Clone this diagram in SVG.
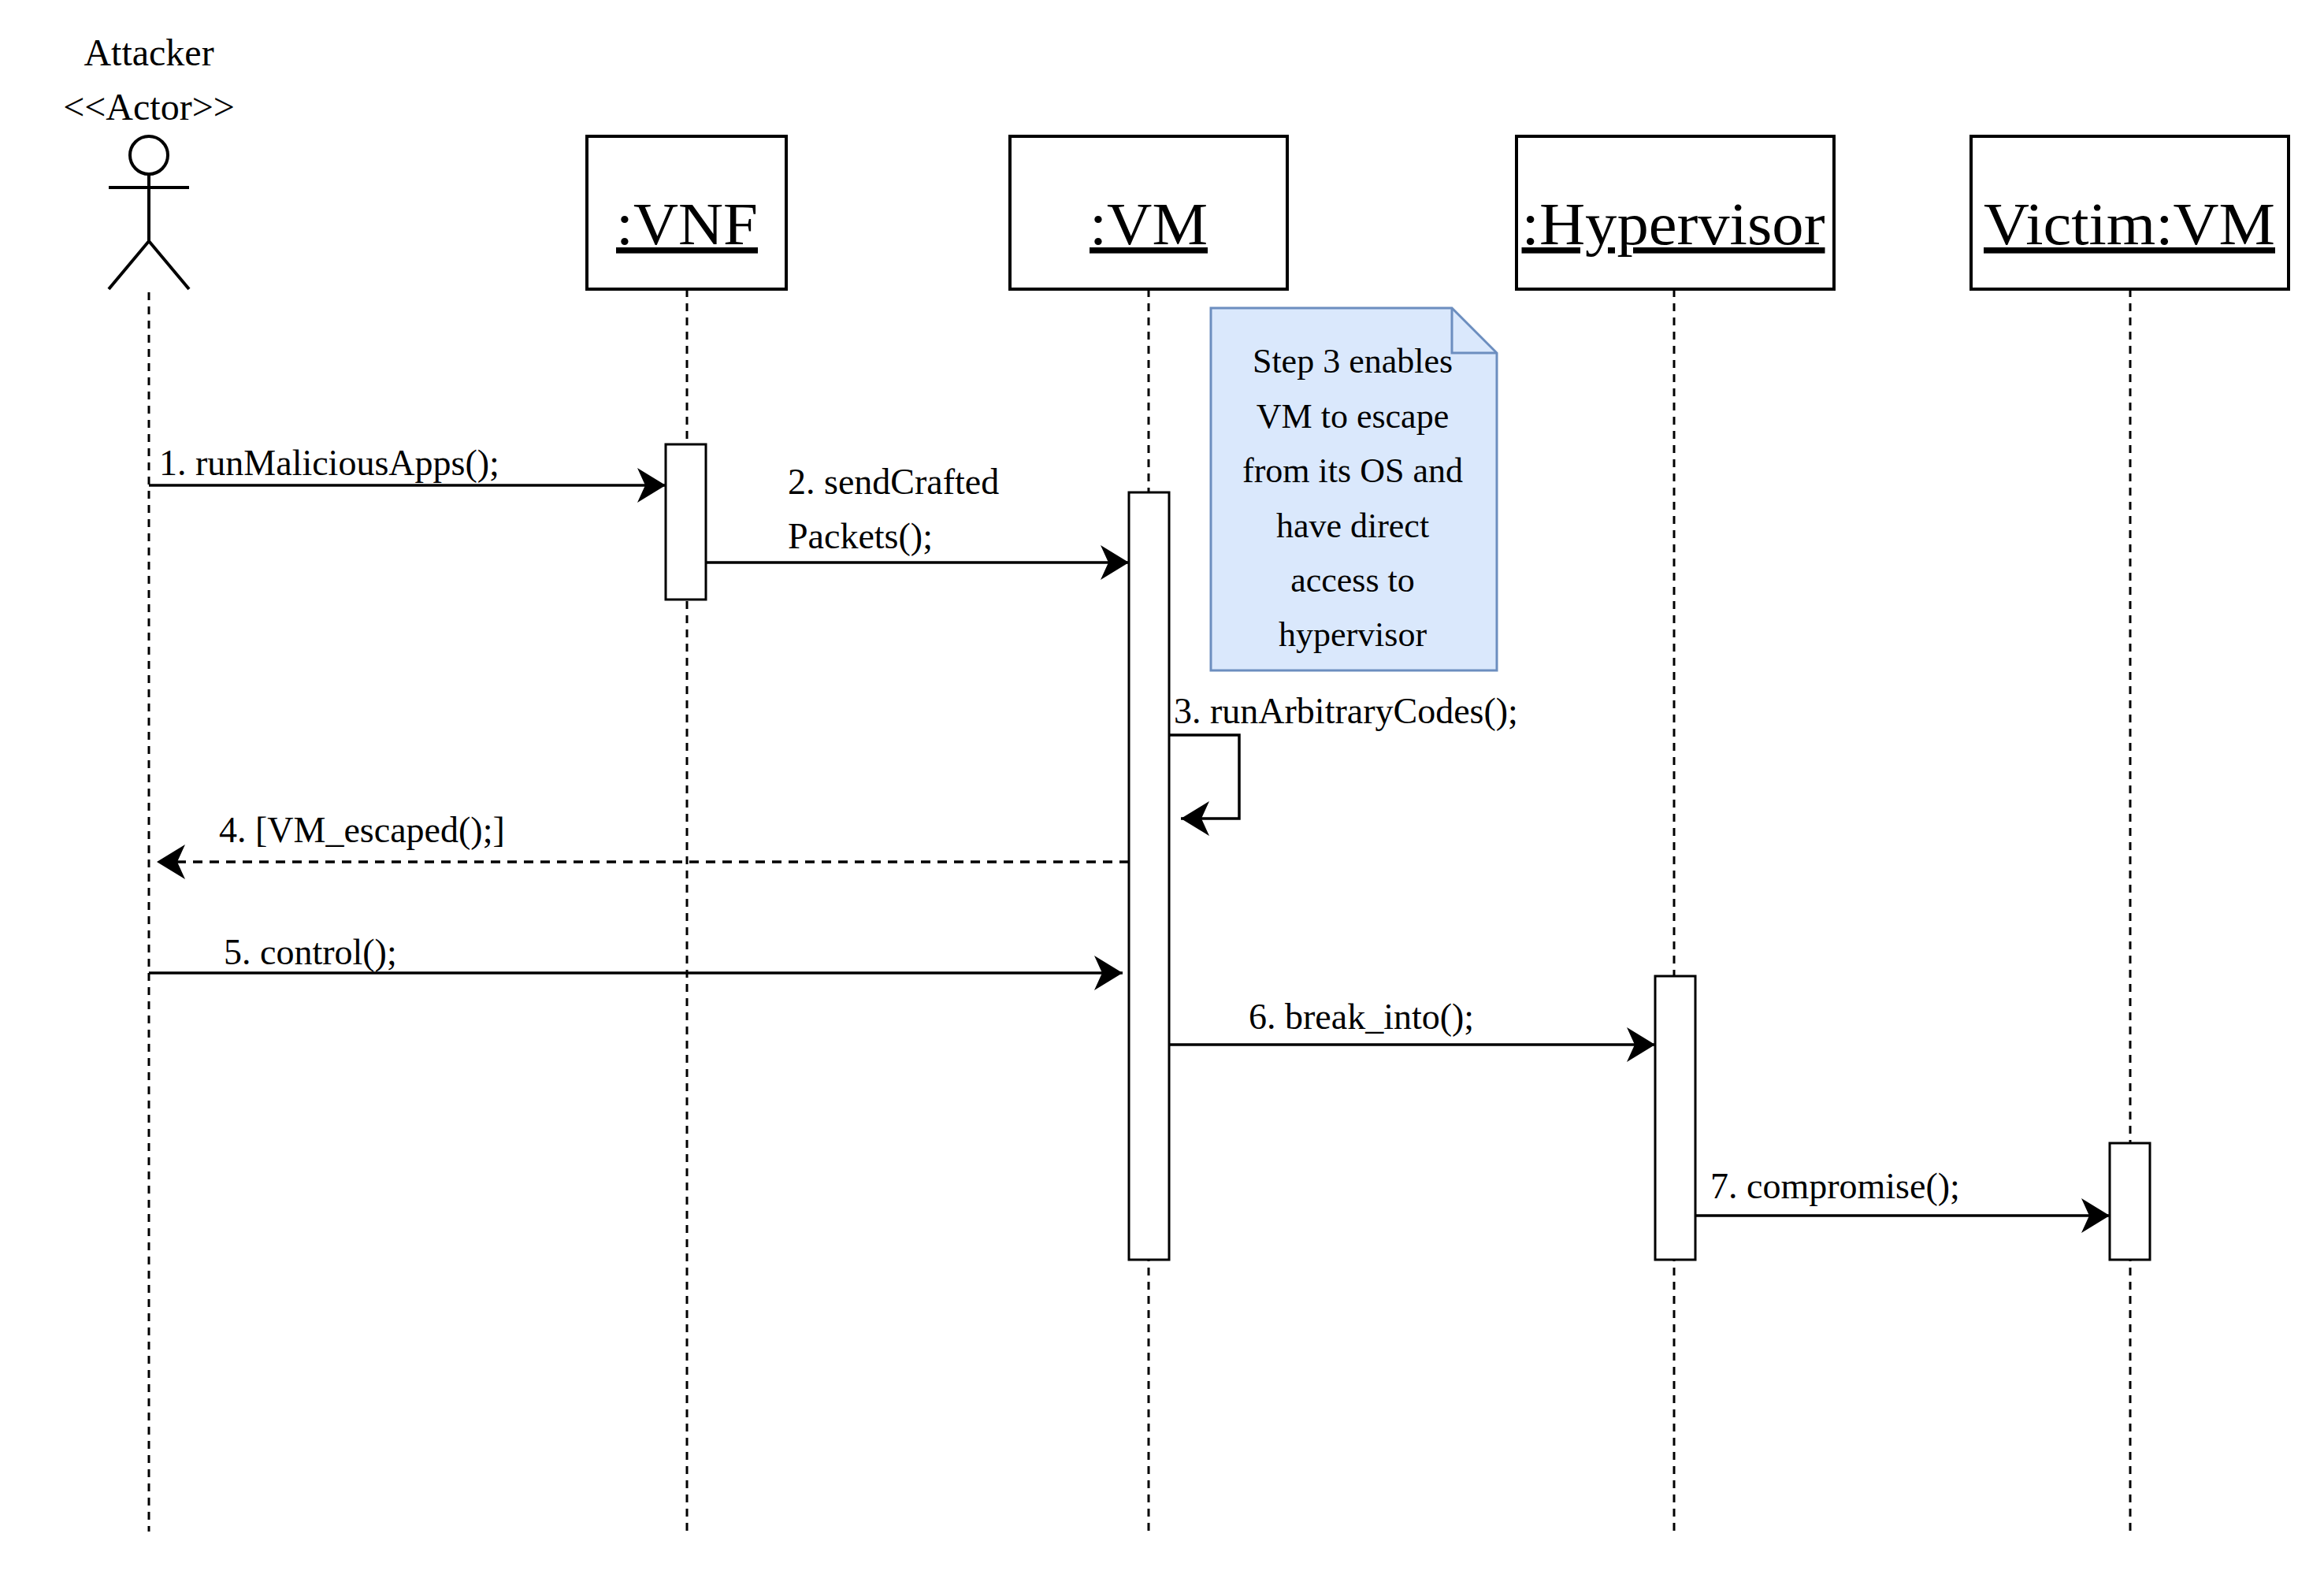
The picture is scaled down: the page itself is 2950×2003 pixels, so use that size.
<svg xmlns="http://www.w3.org/2000/svg" width="2950" height="2003" viewBox="0 0 2950 2003">
<style>
text{font-family:"Liberation Serif","Times New Roman",serif;fill:#000}
.t{font-size:46px}
.h{font-size:76px;text-decoration:underline}
.n{font-size:44px;text-anchor:middle}
.life{stroke:#000;stroke-width:3;stroke-dasharray:10 8;fill:none}
.box{fill:#fff;stroke:#000;stroke-width:4}
.act{fill:#fff;stroke:#000;stroke-width:3}
.m{stroke:#000;stroke-width:3.5;fill:none;marker-end:url(#ar)}
</style>
<defs>
<marker id="ar" markerUnits="userSpaceOnUse" markerWidth="60" markerHeight="60" refX="40" refY="30" orient="auto">
<path d="M4,8 L40,30 L4,52 L14,30 Z" fill="#000"/>
</marker>
</defs>
<rect width="2950" height="2003" fill="#fff"/>
<g id="lifelines">
<line class="life" x1="189" y1="371" x2="189" y2="1944"/>
<line class="life" x1="872" y1="367" x2="872" y2="1944"/>
<line class="life" x1="1458" y1="367" x2="1458" y2="1944"/>
<line class="life" x1="2125" y1="367" x2="2125" y2="1944"/>
<line class="life" x1="2704" y1="367" x2="2704" y2="1944"/>
</g>
<g id="attacker">
<text x="189" y="83" font-size="48" text-anchor="middle">Attacker</text>
<text x="189" y="152" font-size="48" text-anchor="middle">&lt;&lt;Actor&gt;&gt;</text>
<circle cx="189" cy="197" r="24" fill="#fff" stroke="#000" stroke-width="4"/>
<path d="M189,221 V306 M138,238 H240 M138,367 L189,306 L240,367" stroke="#000" stroke-width="4" fill="none"/>
</g>
<g id="vnf"><rect class="box" x="745" y="173" width="253" height="194"/><text class="h" x="872" y="310" text-anchor="middle" textLength="180" lengthAdjust="spacingAndGlyphs">:VNF</text></g>
<g id="vm"><rect class="box" x="1282" y="173" width="352" height="194"/><text class="h" x="1458" y="310" text-anchor="middle" textLength="150" lengthAdjust="spacingAndGlyphs">:VM</text></g>
<g id="hypervisor"><rect class="box" x="1925" y="173" width="403" height="194"/><text class="h" x="2124" y="310" text-anchor="middle" textLength="385" lengthAdjust="spacingAndGlyphs">:Hypervisor</text></g>
<g id="victim"><rect class="box" x="2502" y="173" width="403" height="194"/><text class="h" x="2703" y="310" text-anchor="middle" textLength="370" lengthAdjust="spacingAndGlyphs">Victim:VM</text></g>
<g id="activations">
<rect class="act" x="845" y="564" width="51" height="197"/>
<rect class="act" x="1433" y="625" width="51" height="974"/>
<rect class="act" x="2101" y="1239" width="51" height="360"/>
<rect class="act" x="2678" y="1451" width="51" height="148"/>
</g>
<g id="note">
<path d="M1537,391 H1843 L1900,448 V851 H1537 Z" fill="#dae8fc" stroke="#6c8ebf" stroke-width="3"/>
<path d="M1843,391 V448 H1900" fill="none" stroke="#6c8ebf" stroke-width="3"/>
<text class="n" x="1717" y="473">Step 3 enables</text>
<text class="n" x="1717" y="543">VM to escape</text>
<text class="n" x="1717" y="612">from its OS and</text>
<text class="n" x="1717" y="682">have direct</text>
<text class="n" x="1717" y="751">access to</text>
<text class="n" x="1717" y="820">hypervisor</text>
</g>
<g id="connectors">
<line class="m" x1="189" y1="616" x2="845" y2="616"/>
<line class="m" x1="896" y1="714" x2="1433" y2="714"/>
<path class="m" d="M1484,933 H1573 V1039 H1499"/>
<line class="m" x1="1433" y1="1094" x2="199" y2="1094" stroke-dasharray="12 9"/>
<line class="m" x1="189" y1="1235" x2="1425" y2="1235"/>
<line class="m" x1="1484" y1="1326" x2="2101" y2="1326"/>
<line class="m" x1="2152" y1="1543" x2="2678" y2="1543"/>
</g>
<g id="labels">
<text class="t" x="202" y="603">1. runMaliciousApps();</text>
<text class="t" x="1000" y="627">2. sendCrafted</text>
<text class="t" x="1000" y="696">Packets();</text>
<text class="t" x="1490" y="918">3. runArbitraryCodes();</text>
<text class="t" x="278" y="1069">4. [VM_escaped();]</text>
<text class="t" x="284" y="1224">5. control();</text>
<text class="t" x="1585" y="1306">6. break_into();</text>
<text class="t" x="2171" y="1521">7. compromise();</text>
</g>
</svg>
